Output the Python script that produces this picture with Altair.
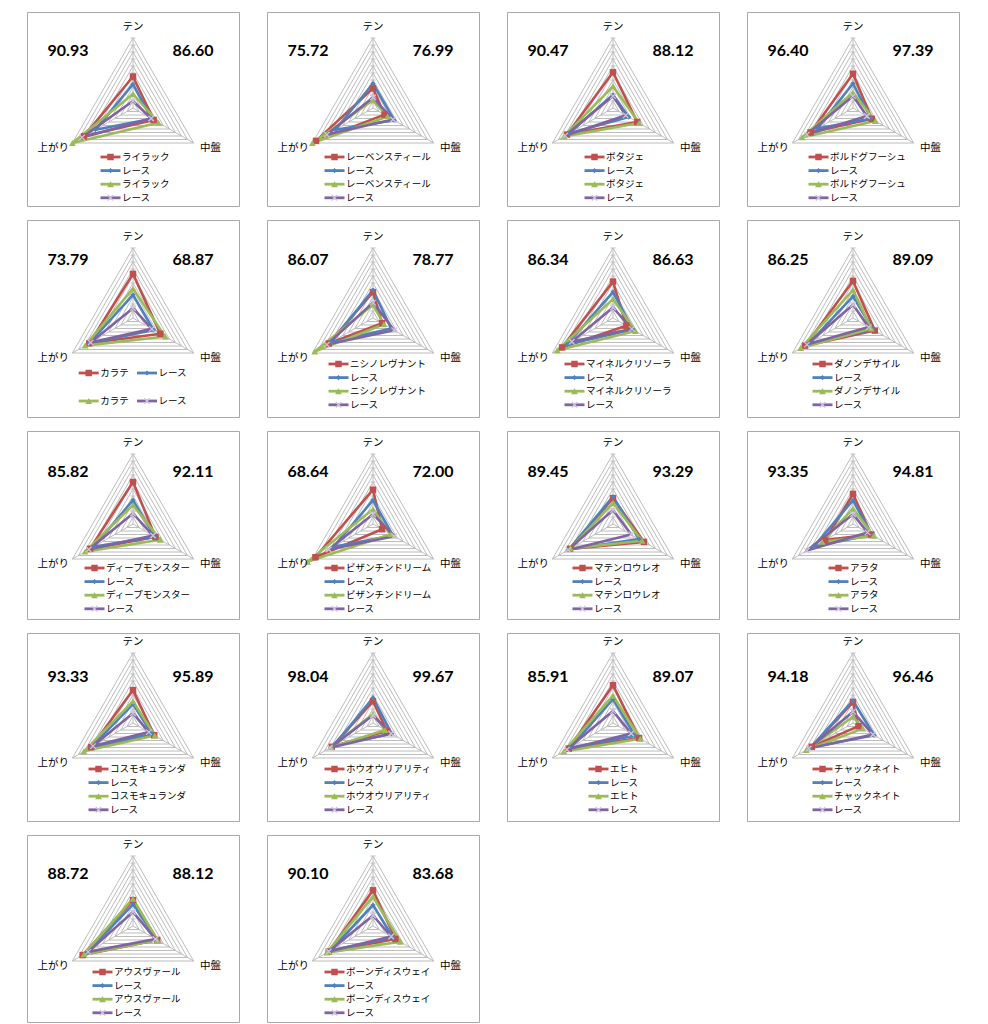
import math
import altair as alt
import pandas as pd

# ---------------- data ----------------
horse_names = ["ライラック", "レーベンスティール", "ボタジェ", "ボルドグフーシュ",
               "カラテ", "ニシノレヴナント", "マイネルクリソーラ", "ダノンデサイル",
               "ディープモンスター", "ビザンチンドリーム", "マテンロウレオ", "アラタ",
               "コスモキュランダ", "ホウオウリアリティ", "エヒト", "チャックネイト",
               "アウスヴァール", "ボーンディスウェイ"]
score_left = [90.93, 75.72, 90.47, 96.40, 73.79, 86.07, 86.34, 86.25, 85.82, 68.64,
              89.45, 93.35, 93.33, 98.04, 85.91, 94.18, 88.72, 90.10]
score_right = [86.60, 76.99, 88.12, 97.39, 68.87, 78.77, 86.63, 89.09, 92.11, 72.00,
               93.29, 94.81, 95.89, 99.67, 89.07, 96.46, 88.12, 83.68]
axis_names = ["テン", "中盤", "上がり"]
race_name = "レース"

# values [テン, 中盤, 上がり] on the 0-10 ring scale
horse_a = [[4.5, 3.4, 8.1], [2.8, 1.9, 9.4], [5.1, 4.0, 7.6], [4.9, 3.1, 7.0],
           [6.3, 4.5, 7.2], [3.7, 1.5, 7.3], [5.2, 2.2, 8.4], [5.3, 3.6, 7.9],
           [6.0, 3.7, 7.1], [4.9, 1.5, 9.5], [3.7, 5.1, 7.1], [4.3, 3.0, 4.6],
           [4.7, 3.5, 6.9], [3.1, 2.3, 6.8], [5.4, 4.3, 7.3], [3.0, 0.9, 6.8],
           [3.7, 4.0, 8.3], [5.1, 3.7, 7.3]]
race_a = [[3.4, 3.1, 6.2], [3.5, 3.5, 6.2], [1.9, 2.6, 7.3], [3.5, 3.0, 5.9],
          [3.3, 3.4, 7.3], [4.0, 3.0, 6.9], [3.7, 3.3, 7.6], [3.1, 3.3, 7.3],
          [3.4, 3.6, 6.5], [3.4, 3.3, 6.5], [3.9, 4.3, 7.3], [3.4, 3.1, 6.5],
          [2.7, 3.1, 6.9], [3.6, 3.1, 6.4], [3.4, 3.6, 7.1], [3.2, 3.5, 7.0],
          [3.1, 4.0, 7.6], [3.0, 3.3, 7.0]]
horse_b = [[2.0, 4.2, 10.0], [1.1, 2.4, 10.0], [3.1, 4.3, 8.1], [2.2, 3.7, 8.4],
           [4.2, 5.3, 7.9], [1.9, 1.8, 9.6], [2.7, 3.7, 9.2], [4.0, 3.0, 8.6],
           [2.7, 4.5, 7.9], [2.1, 2.9, 10.8], [3.0, 4.8, 7.0], [2.2, 3.4, 5.1],
           [3.1, 3.6, 8.1], [1.3, 2.0, 6.9], [3.9, 4.5, 8.1], [0.9, 1.6, 7.7],
           [3.9, 4.0, 8.1], [4.2, 4.5, 7.6]]
race_b = [[1.0, 3.0, 8.4], [1.5, 3.3, 7.6], [1.7, 2.1, 7.9], [1.7, 2.3, 7.6],
          [1.4, 3.1, 7.0], [2.2, 3.5, 7.6], [1.5, 3.1, 6.8], [1.9, 2.6, 7.6],
          [1.5, 3.3, 7.3], [1.4, 3.5, 7.3], [2.0, 3.0, 7.4], [1.4, 2.4, 7.6],
          [1.4, 2.6, 6.6], [1.1, 3.0, 7.1], [1.7, 3.0, 7.6], [1.6, 3.3, 7.3],
          [2.0, 3.7, 7.4], [1.5, 3.0, 7.3]]

series_colors = ["#C0504D", "#4F81BD", "#9BBB59", "#8064A2"]
series_shapes = ["square", "diamond", "triangle-up", "x"]
series_sizes = [42, 26, 46, 36]
grid_levels = list(range(1, 11))

# ---------------- layout ----------------
PANEL_W = 212
ROW_H = [194, 197, 188, 188, 187]
ROW_CY = [96, 98, 93, 90, 91]
ROW_NUM_Y = [39, 40, 41, 44, 39]
ROW_LEG_Y = [49, 46, 44, 46, 46]
CX = 106
RAD = 70.0
ANG = [90, -30, 210]
XPATH = "M-1,-1L1,1M-1,1L1,-1"
JP = "Noto Sans CJK JP"


def pt(v, k, cy):
    a = math.radians(ANG[k])
    r = v / 10.0 * RAD
    return CX + r * math.cos(a), cy - r * math.sin(a)


def make_panel(i):
    row = i // 4
    H = ROW_H[row]
    cy = ROW_CY[row]
    xs = alt.Scale(domain=[0, PANEL_W], nice=False, zero=False)
    ys = alt.Scale(domain=[0, H], nice=False, zero=False, reverse=True)
    X = alt.X("x:Q", scale=xs, axis=None)
    Y = alt.Y("y:Q", scale=ys, axis=None)

    # grid rings, spokes, axis ticks
    g = []
    for lv in grid_levels:
        for o, k in enumerate([0, 1, 2, 0]):
            x, y = pt(lv, k, cy)
            g.append({"g": f"r{lv}", "o": o, "x": x, "y": y})
    for k in range(3):
        x, y = pt(10, k, cy)
        g.append({"g": f"s{k}", "o": 0, "x": CX, "y": cy})
        g.append({"g": f"s{k}", "o": 1, "x": x, "y": y})
    for lv in grid_levels:
        x, y = pt(lv, 0, cy)
        g.append({"g": f"t{lv}", "o": 0, "x": x - 2.5, "y": y})
        g.append({"g": f"t{lv}", "o": 1, "x": x + 2.5, "y": y})
    grid = alt.Chart(pd.DataFrame(g)).mark_line(
        color="#BDBDBD", strokeWidth=1).encode(X, Y, detail="g:N", order="o:Q")

    # series
    series = [horse_a[i], race_a[i], horse_b[i], race_b[i]]
    lines, mk_fill, mk_x = [], [], []
    for si, vals in enumerate(series):
        for o, k in enumerate([0, 1, 2, 0]):
            x, y = pt(vals[k], k, cy)
            lines.append({"g": f"z{si}", "o": o, "x": x, "y": y, "c": series_colors[si]})
        for k in range(3):
            x, y = pt(vals[k], k, cy)
            rec = {"x": x, "y": y, "c": series_colors[si], "sh": series_shapes[si],
                   "sz": series_sizes[si]}
            (mk_x if si == 3 else mk_fill).append(rec)

    # legend
    name = horse_names[i]
    labels = [name, race_name, name, race_name]
    leg_lines, left_txt = [], []
    if i == 4:
        pos = [(51.7, cy + 55), (110, cy + 55), (51.7, cy + 83), (110, cy + 83)]
    else:
        n = max(len(name), 3)
        lx0 = 104 - (21 + 8 * n) / 2.0
        pos = [(lx0, cy + ROW_LEG_Y[row] + j * 13.6) for j in range(4)]
    for si, (lx, ly) in enumerate(pos):
        leg_lines.append({"g": f"L{si}", "o": 0, "x": lx, "y": ly, "c": series_colors[si]})
        leg_lines.append({"g": f"L{si}", "o": 1, "x": lx + 20, "y": ly, "c": series_colors[si]})
        rec = {"x": lx + 10, "y": ly, "c": series_colors[si], "sh": series_shapes[si],
               "sz": series_sizes[si]}
        (mk_x if si == 3 else mk_fill).append(rec)
        left_txt.append({"x": lx + 21.5, "y": ly, "t": labels[si], "fs": 9.5})

    sline = alt.Chart(pd.DataFrame(lines)).mark_line(
        strokeWidth=2.6, strokeJoin="round", strokeCap="round").encode(
        X, Y, detail="g:N", order="o:Q", color=alt.Color("c:N", scale=None))
    lline = alt.Chart(pd.DataFrame(leg_lines)).mark_line(
        strokeWidth=2.8, strokeCap="butt").encode(
        X, Y, detail="g:N", order="o:Q", color=alt.Color("c:N", scale=None))
    mfill = alt.Chart(pd.DataFrame(mk_fill)).mark_point(filled=True, opacity=1).encode(
        X, Y, color=alt.Color("c:N", scale=None), shape=alt.Shape("sh:N", scale=None),
        size=alt.Size("sz:Q", scale=None))
    mx = alt.Chart(pd.DataFrame(mk_x)).mark_point(
        shape=XPATH, filled=False, color="#CFC5DD", strokeWidth=1.3, size=30, opacity=1
    ).encode(X, Y)

    # axis labels
    tx, ty = pt(10, 0, cy)
    rx, ry = pt(10, 1, cy)
    lx, ly = pt(10, 2, cy)
    t_center = alt.Chart(pd.DataFrame([{"x": tx, "y": ty - 11, "t": axis_names[0]}])).mark_text(
        font=JP, fontSize=10.5, color="#000000", align="center", baseline="middle").encode(X, Y, text="t:N")
    left_txt.append({"x": rx + 6.5, "y": ry + 4.5, "t": axis_names[1], "fs": 10.5})
    t_left = alt.Chart(pd.DataFrame(left_txt)).mark_text(
        font=JP, color="#000000", align="left", baseline="middle").encode(
        X, Y, text="t:N", size=alt.Size("fs:Q", scale=None))
    t_right = alt.Chart(pd.DataFrame([{"x": lx - 3.5, "y": ly + 4.5, "t": axis_names[2]}])).mark_text(
        font=JP, fontSize=10.5, color="#000000", align="right", baseline="middle").encode(X, Y, text="t:N")

    ny = ROW_NUM_Y[row]
    nums = pd.DataFrame([{"x": 41, "y": ny, "t": f"{score_left[i]:.2f}"},
                         {"x": 166, "y": ny, "t": f"{score_right[i]:.2f}"}])
    t_num = alt.Chart(nums).mark_text(
        font="Lato", fontSize=16, fontWeight="bold", color="#000000",
        align="center", baseline="middle").encode(X, Y, text="t:N")

    return alt.layer(grid, sline, lline, mfill, mx, t_center, t_left, t_right, t_num).properties(
        width=PANEL_W, height=H)


rows = []
for r in range(5):
    idx = range(r * 4, min(r * 4 + 4, len(horse_names)))
    rows.append(alt.hconcat(*[make_panel(i) for i in idx], spacing=26))

chart = alt.vconcat(*rows, spacing=12).properties(
    padding={"left": 18, "top": 3, "right": 5, "bottom": 0}
).configure_view(stroke="#A9A9A9", strokeWidth=1)

chart.save("out.html", embed_options={"renderer": "svg", "actions": False})
